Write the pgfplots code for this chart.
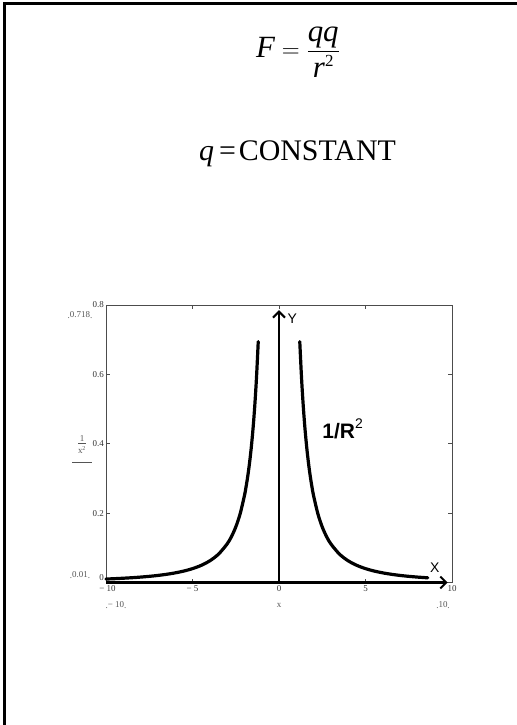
\documentclass[border=0pt]{standalone}
\usepackage{amsmath}
\usepackage{fontspec}
\setmainfont{Liberation Serif}
\newfontfamily\arial{Liberation Sans}
\usepackage{pgfplots}
\pgfplotsset{compat=1.18}
\usetikzlibrary{arrows.meta}

\definecolor{mcgray}{HTML}{555555}

\begin{document}
\begin{tikzpicture}[x=1bp,y=1bp]
  \useasboundingbox (0,0) rectangle (517,-725);
  % page frame (top and left edges only)
  \draw[line width=3bp] (4.5,-725) -- (4.5,-3.7) -- (517,-3.7);

  % headings
  \node at (298,-52) {\fontsize{31}{31}\selectfont
    $\textit{F} = \dfrac{\textit{qq}}{\textit{r}\raisebox{11bp}{\fontsize{17}{17}\selectfont 2}}$};
  \node[anchor=base] at (297.5,-160) {\fontsize{30}{30}\selectfont
    \textit{q}\kern5bp=\kern3bp CONSTANT};

  \begin{axis}[
    at={(106bp,-582.5bp)}, anchor=south west,
    width=346bp, height=277.5bp, scale only axis,
    xmin=-10, xmax=10, ymin=0, ymax=0.8,
    clip=false,
    axis line style={draw=black!70, line width=0.6bp},
    tick align=inside, major tick length=4bp,
    tick style={draw=black!70, line width=0.6bp},
    xtick={-10,-5,0,5,10},
    xticklabels={\hspace*{3bp}− 10,− 5,0,5,10},
    ytick={0,0.2,0.4,0.6,0.8},
    yticklabels={\raisebox{2.5bp}[0pt][0pt]{0},0.2,0.4,0.6,0.8},
    ticklabel style={font=\fontsize{9}{9}\selectfont, text=black!80, inner sep=1bp},
    yticklabel style={xshift=-1bp},
    xticklabel style={yshift=-2bp},
  ]
    % coordinate axes with arrows
    \draw[line width=2.6bp, -{Straight Barb[length=6bp,width=12bp,line width=2bp]}]
      (axis cs:-10,0) -- (axis cs:9.75,0);
    \draw[line width=2.6bp, -{Straight Barb[length=6bp,width=12bp,line width=2bp]}]
      (axis cs:0,0) -- (axis cs:0,0.785);

    % 1/x^2, left branch
    \addplot[black, line width=3.2bp, smooth, line cap=round] coordinates {
      (-10,0.01) (-9.5,0.01108) (-9,0.01235) (-8.5,0.01384) (-8,0.015625)
      (-7.5,0.017778) (-7,0.020408) (-6.5,0.023669) (-6,0.027778)
      (-5.5,0.033058) (-5,0.04) (-4.5,0.049383) (-4,0.0625) (-3.5,0.081633)
      (-3,0.111111) (-2.75,0.132231) (-2.5,0.16) (-2.25,0.197531) (-2,0.25)
      (-1.9,0.277008) (-1.8,0.308642) (-1.7,0.346021) (-1.6,0.390625)
      (-1.5,0.444444) (-1.4,0.510204) (-1.3,0.591716) (-1.2,0.694444)
    };
    % 1/x^2, right branch
    \addplot[black, line width=3.2bp, smooth, line cap=round] coordinates {
      (1.2,0.694444) (1.3,0.591716) (1.4,0.510204) (1.5,0.444444)
      (1.6,0.390625) (1.7,0.346021) (1.8,0.308642) (1.9,0.277008) (2,0.25)
      (2.25,0.197531) (2.5,0.16) (2.75,0.132231) (3,0.111111) (3.5,0.081633)
      (4,0.0625) (4.5,0.049383) (5,0.04) (5.5,0.033058) (6,0.027778)
      (6.5,0.023669) (7,0.020408) (7.5,0.017778) (8,0.015625) (8.6,0.013521)
    };

    \node[anchor=west] at (axis cs:0.3,0.76) {\arial\fontsize{14}{14}\selectfont Y};
    \node at (axis cs:9.0,0.043) {\arial\fontsize{14}{14}\selectfont X};
    \node[anchor=base west, inner sep=0pt] at (axis cs:2.5,0.415)
      {\arial\fontsize{21}{21}\selectfont\bfseries 1/R\raisebox{10bp}{\fontsize{14}{14}\selectfont\mdseries 2}};
  \end{axis}

  % Mathcad range markers and axis names
  \begin{scope}[font=\fontsize{9}{9}\selectfont, text=mcgray]
    \node at (80,-315) {\raisebox{-1.5bp}{.}0.718\raisebox{-1.5bp}{.}};
    \node at (80,-575) {\raisebox{-1.5bp}{.}0.01\raisebox{-1.5bp}{.}};
    \node at (116,-605) {\raisebox{-1.5bp}{.}− 10\raisebox{-1.5bp}{.}};
    \node at (279,-605) {x};
    \node at (443,-605) {\raisebox{-1.5bp}{.}10\raisebox{-1.5bp}{.}};
    \node[inner sep=0pt] at (82,-446) {\begin{tabular}{@{}c@{}}1\\[-1bp]\hline
      \rule{0pt}{10bp}x\textsuperscript{2}\end{tabular}};
  \end{scope}
  \draw[mcgray, line width=0.6bp] (72,-462) -- (92,-462);
\end{tikzpicture}
\end{document}
